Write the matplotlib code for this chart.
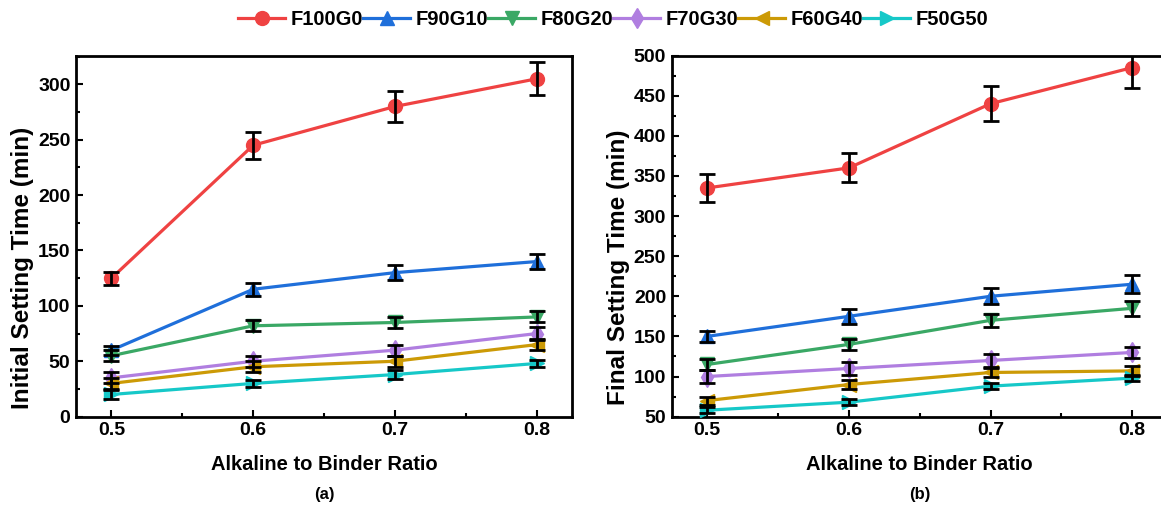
import numpy as np
import matplotlib
matplotlib.use("Agg")
import matplotlib.pyplot as plt
from matplotlib.ticker import MultipleLocator

plt.rcParams["font.family"] = ["Liberation Sans", "DejaVu Sans"]
plt.rcParams["font.weight"] = "bold"

ratio = [0.5, 0.6, 0.7, 0.8]
labels = ["F100G0", "F90G10", "F80G20", "F70G30", "F60G40", "F50G50"]
colors = ["#EF4242", "#1F6FDA", "#3AA865", "#B07EE0", "#CC9A06", "#16C8C8"]
markers = ["o", "^", "v", "d", "<", ">"]

# initial setting time (min) and error
initial = [
    [125, 245, 280, 305],
    [60, 115, 130, 140],
    [55, 82, 85, 90],
    [35, 50, 60, 75],
    [30, 45, 50, 65],
    [20, 30, 38, 48],
]
initial_err = [
    [6, 12, 14, 15],
    [4, 6, 7, 7],
    [5, 5, 5, 5],
    [5, 5, 5, 6],
    [5, 5, 5, 5],
    [4, 3, 4, 3],
]
# final setting time (min) and error
final = [
    [335, 360, 440, 485],
    [150, 175, 200, 215],
    [115, 140, 170, 185],
    [100, 110, 120, 130],
    [70, 90, 105, 107],
    [58, 68, 88, 98],
]
final_err = [
    [17, 18, 22, 25],
    [7, 9, 10, 11],
    [7, 7, 8, 9],
    [8, 8, 8, 7],
    [5, 6, 6, 6],
    [4, 4, 4, 4],
]

fig = plt.figure(figsize=(11.61, 5.05), dpi=100)
ax1 = fig.add_axes([0.0655, 0.175, 0.4272, 0.715])
ax2 = fig.add_axes([0.5786, 0.175, 0.4272, 0.715])


def draw(ax, vals, errs, ylim, ylab, tag):
    for i in range(len(labels)):
        ax.plot(ratio, vals[i], color=colors[i], marker=markers[i], ms=10,
                lw=2.3, label=labels[i], zorder=3)
        ax.errorbar(ratio, vals[i], yerr=errs[i], fmt="none", ecolor="black",
                    elinewidth=2, capsize=6, capthick=2, zorder=4)
    ax.set_xlim(0.475, 0.825)
    ax.set_ylim(*ylim)
    ax.set_xticks(ratio)
    ax.xaxis.set_minor_locator(MultipleLocator(0.05))
    ax.yaxis.set_major_locator(MultipleLocator(50))
    ax.yaxis.set_minor_locator(MultipleLocator(25))
    ax.tick_params(which="major", direction="in", length=5, width=1.5,
                   labelsize=14, pad=4)
    ax.tick_params(which="minor", direction="in", length=3, width=1.5)
    for s in ax.spines.values():
        s.set_linewidth(2)
    for t in ax.get_xticklabels() + ax.get_yticklabels():
        t.set_fontweight("bold")
    ax.set_ylabel(ylab, fontsize=17.5, fontweight="bold")
    ax.yaxis.set_label_coords(-0.108, 0.413)
    ax.yaxis.label.set_verticalalignment("center")
    ax.set_xlabel("Alkaline to Binder Ratio", fontsize=14.5, fontweight="bold")
    ax.xaxis.set_label_coords(0.5, -0.133)
    ax.xaxis.label.set_verticalalignment("center")
    ax.text(0.5, -0.216, tag, transform=ax.transAxes, ha="center",
            va="center", fontsize=12, fontweight="bold")


draw(ax1, initial, initial_err, (0, 326), "Initial Setting Time (min)", "(a)")
draw(ax2, final, final_err, (50, 500), "Final Setting Time (min)", "(b)")

h, l = ax1.get_legend_handles_labels()
fig.legend(h, l, loc="center left", bbox_to_anchor=(0.205, 0.961), ncol=6,
           frameon=False, prop={"size": 14.5, "weight": "bold"},
           handlelength=2.35, handletextpad=0.25, columnspacing=0.0,
           borderpad=0, borderaxespad=0)

fig.savefig("out.png", dpi=100)
